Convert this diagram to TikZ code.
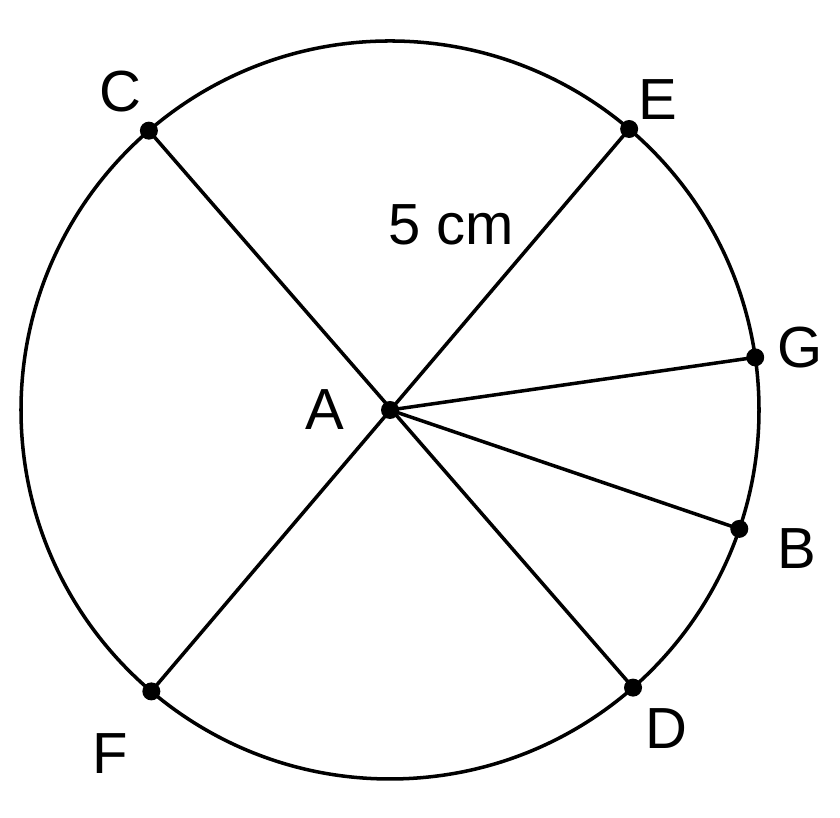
\documentclass[tikz,border=0pt]{standalone}
\usepackage{fontspec}
\setmainfont{Liberation Sans}
\usepackage{tikz}
\usetikzlibrary{calc}

\begin{document}
\begin{tikzpicture}[line width=1pt, lbl/.style={font=\fontsize{16.5}{19}\selectfont}]
    \useasboundingbox (0,0) rectangle (8.4,8.18);
    
    % Circle
    \coordinate (A) at (3.90,4.08);
    \draw (A) circle (3.69);
    
    % Points on the circle
    \coordinate (C) at ($(A)+(130.8:3.69)$);
    \coordinate (E) at ($(A)+(49.6:3.69)$);
    \coordinate (G) at ($(A)+(8.2:3.69)$);
    \coordinate (B) at ($(A)+(-18.8:3.69)$);
    \coordinate (D) at ($(A)+(-48.8:3.69)$);
    \coordinate (F) at ($(A)+(229.7:3.69)$);
    
    % Radii
    \draw (C) -- (D);
    \draw (E) -- (F);
    \draw (A) -- (G);
    \draw (A) -- (B);
    
    % Dots
    \foreach \p in {A,C,E,G,B,D,F}
        \fill (\p) circle (0.09);
    
    % Labels
    \node[lbl] (lC) at (1.20,7.26) {C};
    \node[lbl] (lE) at (6.58,7.18) {E};
    \node[lbl] (lG) at (8.00,4.70) {G};
    \node[lbl] (lB) at (7.97,2.69) {B};
    \node[lbl] (lD) at (6.66,0.89) {D};
    \node[lbl] (lF) at (1.10,0.64) {F};
    \node[lbl] (lA) at (3.25,4.08) {A};
    \node[lbl] (len) at (4.51,5.93) {5 cm};
\end{tikzpicture}
\end{document}
